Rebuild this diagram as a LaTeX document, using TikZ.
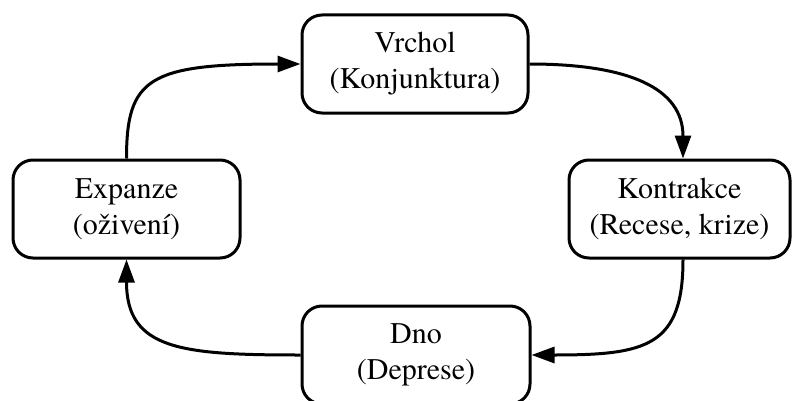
\documentclass[tikz,border=0pt]{standalone}
\usepackage{fontspec}
\setmainfont{texgyretermes-regular.otf}
\usetikzlibrary{arrows.meta}
\tikzset{
  phase/.style={draw=black, line width=3pt, rounded corners=20pt, align=center,
    inner sep=0pt, font=\fontsize{30}{36}\selectfont},
  flow/.style={line width=3pt, -{Triangle[length=23pt,width=16pt]}}
}
\begin{document}
\begin{tikzpicture}[x=1pt,y=1pt]
\clip (0,0) rectangle (792,400);
\node[phase, minimum width=226pt, minimum height=98pt] (vr) at (415,336) {Vrchol\\(Konjunktura)};
\node[phase, minimum width=221pt, minimum height=98pt] (ko) at (679.5,191) {Kontrakce\\(Recese, krize)};
\node[phase, minimum width=228pt, minimum height=98pt] (dno) at (416,45) {Dno\\(Deprese)};
\node[phase, minimum width=227pt, minimum height=98pt] (ex) at (126.5,191) {Expanze\\(oživení)};
\draw[flow] (ex.north) .. controls +(0,80) and +(-152,0) .. (vr.west);
\draw[flow] (vr.east) .. controls +(100,0) and +(0,70) .. ([xshift=3.5pt]ko.north);
\draw[flow] ([xshift=3.5pt]ko.south) .. controls +(0,-87) and +(115,0) .. (dno.east);
\draw[flow] (dno.west) .. controls +(-120,0) and +(0,-90) .. (ex.south);
\end{tikzpicture}
\end{document}
